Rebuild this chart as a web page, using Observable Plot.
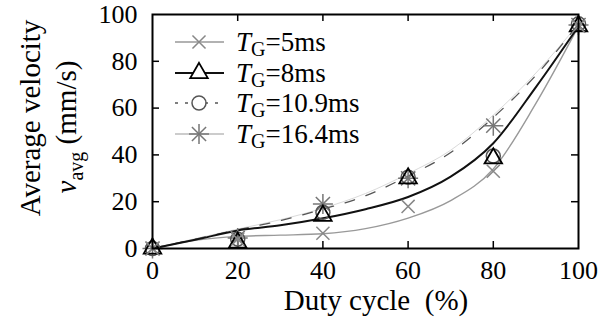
<!DOCTYPE html>
<html><head><meta charset="utf-8">
<script src="https://cdn.jsdelivr.net/npm/d3@7"></script>
<script src="https://cdn.jsdelivr.net/npm/@observablehq/plot@0.6"></script>
<style>body{margin:0;background:#fff;} svg{display:block;}</style>
</head><body>
<div id="chart"></div>
<script>
// measured points
const duty = [0, 20, 40, 60, 80, 100];
const v5   = [0, 4, 6.5, 18, 33, 95];
const v8   = [0, 2.5, 14, 30, 38.5, 95];
const v109 = [0, 4, 15.5, 30.5, 39.5, 96];
const v164 = [0, 4.5, 19, 30, 52.5, 95.5];
// fitted curves
const fitX   = [0, 10, 20, 30, 40, 50, 60, 70, 80, 90, 100];
const fit5   = [0, 3.5, 5.2, 5.7, 6.3, 8.5, 13, 20.5, 34, 62, 95];
const fit8   = [0, 3.7, 7.7, 9.9, 12.9, 16.8, 22, 30.7, 45, 69, 95];
const fit109 = [0, 4, 8, 11.9, 16.8, 22.5, 31, 41, 56, 74, 96];
const fit164 = [0, 4.2, 8.3, 12.3, 17.2, 23.5, 32, 42, 57, 75, 96];
const xTicks = [0, 20, 40, 60, 80, 100];
const yTicks = [0, 20, 40, 60, 80, 100];
const innerTicks = [20, 40, 60, 80];
const seriesNames = ["5ms", "8ms", "10.9ms", "16.4ms"];

const W = 611, H = 320, mL = 152, mR = 33, mT = 14, mB = 72;
const pw = W - mL - mR, ph = H - mT - mB;
const tickLen = 7;
const font = "'Liberation Serif', Tinos, 'Times New Roman', serif";

const pts = (ys) => duty.map((d, i) => ({x: d, y: ys[i]}));
const fit = (ys) => fitX.map((d, i) => ({x: d, y: ys[i]}));

const styles = {
  c5:   {stroke: "#999", strokeWidth: 1.4},
  c8:   {stroke: "#111", strokeWidth: 2},
  c109: {stroke: "#555", strokeWidth: 1.3, strokeDasharray: "10,12"},
  c164: {stroke: "#dadada", strokeWidth: 1}
};

const plot = Plot.plot({
  width: W, height: H,
  marginLeft: mL, marginRight: mR, marginTop: mT, marginBottom: mB,
  style: {fontFamily: font, fontSize: "24px", background: "#fff", overflow: "visible"},
  x: {domain: [0, 100], label: null},
  y: {domain: [0, 100], label: null},
  marks: [
    Plot.axisX({ticks: xTicks, tickSize: 0, tickPadding: 12, fontSize: 26, label: null}),
    Plot.axisY({ticks: yTicks, tickSize: 0, tickPadding: 15, fontSize: 26, label: null}),
    Plot.ruleX(innerTicks, {x: d => d, y1: 0, y2: tickLen / ph * 100, stroke: "#000", strokeWidth: 1.5}),
    Plot.ruleX(innerTicks, {x: d => d, y1: 100, y2: 100 - tickLen / ph * 100, stroke: "#000", strokeWidth: 1.5}),
    Plot.ruleY(innerTicks, {y: d => d, x1: 0, x2: tickLen / pw * 100, stroke: "#000", strokeWidth: 1.5}),
    Plot.ruleY(innerTicks, {y: d => d, x1: 100, x2: 100 - tickLen / pw * 100, stroke: "#000", strokeWidth: 1.5}),
    Plot.line(fit(fit164), {x: "x", y: "y", curve: "monotone-x", ...styles.c164}),
    Plot.line(fit(fit5), {x: "x", y: "y", curve: "monotone-x", ...styles.c5}),
    Plot.line(fit(fit109), {x: "x", y: "y", curve: "monotone-x", ...styles.c109}),
    Plot.line(fit(fit8), {x: "x", y: "y", curve: "monotone-x", ...styles.c8}),
    Plot.dot(pts(v164), {x: "x", y: "y", symbol: "plus", r: 6.5, stroke: "#777", strokeWidth: 1.5}),
    Plot.dot(pts(v164), {x: "x", y: "y", symbol: "times", r: 6.5, stroke: "#777", strokeWidth: 1.5}),
    Plot.dot(pts(v109), {x: "x", y: "y", symbol: "circle", r: 7, stroke: "#555", fill: "none", strokeWidth: 1.5}),
    Plot.dot(pts(v8), {x: "x", y: "y", symbol: "triangle", r: 6.5, stroke: "#000", fill: "none", strokeWidth: 1.8}),
    Plot.dot(pts(v5), {x: "x", y: "y", symbol: "times", r: 6, stroke: "#888", strokeWidth: 1.5}),
    Plot.frame({stroke: "#000", strokeWidth: 2})
  ]
});
document.getElementById("chart").appendChild(plot);

const svg = d3.select(plot);
svg.attr("font-family", font);
svg.insert("style", ":first-child").text("text, tspan { font-family: 'Liberation Serif', Tinos, 'Times New Roman', serif !important; }");

// axis titles
svg.append("text").attr("x", 376).attr("y", 310).attr("text-anchor", "middle")
  .attr("font-size", 29).attr("fill", "#000")
  .text("Duty cycle  (%)");

svg.append("text").attr("transform", "translate(40,118) rotate(-90)").attr("text-anchor", "middle")
  .attr("font-size", 29).attr("fill", "#000").text("Average velocity");
const yl2 = svg.append("text").attr("transform", "translate(76,127) rotate(-90)").attr("text-anchor", "middle")
  .attr("font-size", 29).attr("fill", "#000");
yl2.append("tspan").attr("font-style", "italic").text("v");
yl2.append("tspan").attr("font-size", 20).attr("dy", 7).text("avg");
yl2.append("tspan").attr("dy", -7).text(" (mm/s)");

// legend
const legY = [42, 73, 103, 134];
const legStyles = [styles.c5, styles.c8, {...styles.c109, strokeDasharray: "3,7"}, {stroke: "#bbb", strokeWidth: 1.4}];
const lx1 = 175, lx2 = 224, lmx = 199, tx = 236;
seriesNames.forEach((name, i) => {
  const y = legY[i];
  const st = legStyles[i];
  svg.append("line").attr("x1", lx1).attr("x2", lx2).attr("y1", y).attr("y2", y)
    .attr("stroke", st.stroke).attr("stroke-width", st.strokeWidth)
    .attr("stroke-dasharray", st.strokeDasharray || null);
  const g = svg.append("g").attr("transform", `translate(${lmx},${y})`).attr("fill", "none");
  const sym = (type, r) => d3.symbol(type, Math.PI * r * r)();
  if (i === 0) g.append("path").attr("d", sym(d3.symbolTimes, 6)).attr("stroke", "#888").attr("stroke-width", 1.5);
  if (i === 1) g.append("path").attr("d", sym(d3.symbolTriangle, 6.5)).attr("stroke", "#000").attr("stroke-width", 1.8).attr("fill", "#fff");
  if (i === 2) g.append("path").attr("d", sym(d3.symbolCircle, 7)).attr("stroke", "#555").attr("stroke-width", 1.5).attr("fill", "#fff");
  if (i === 3) {
    g.append("path").attr("d", sym(d3.symbolPlus, 6.5)).attr("stroke", "#777").attr("stroke-width", 1.5);
    g.append("path").attr("d", sym(d3.symbolTimes, 6.5)).attr("stroke", "#777").attr("stroke-width", 1.5);
  }
  const t = svg.append("text").attr("x", tx).attr("y", y + 9).attr("text-anchor", "start")
    .attr("font-size", 27).attr("fill", "#000");
  t.append("tspan").attr("font-style", "italic").text("T");
  t.append("tspan").attr("font-size", 20).attr("dy", 5).text("G");
  t.append("tspan").attr("dy", -5).text("=" + name);
});

svg.selectAll("text").attr("font-family", font).style("font-family", font);
</script>
</body></html>
